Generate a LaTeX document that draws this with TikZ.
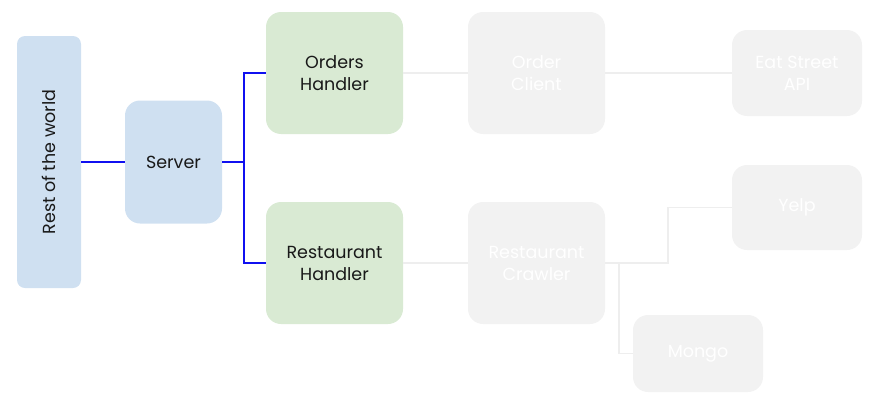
\documentclass[tikz,border=0pt]{standalone}
\usepackage{fontspec}
\setmainfont{Poppins}
\definecolor{boxblue}{HTML}{CFE0F1}
\definecolor{boxgreen}{HTML}{D9EAD3}
\definecolor{boxgray}{HTML}{F2F2F2}
\definecolor{linegray}{HTML}{EEEEEE}
\definecolor{linkblue}{HTML}{1010F0}
\begin{document}
\begin{tikzpicture}[x=1pt, y=-1pt,
    box/.style={rounded corners=15pt, inner sep=0pt, align=center,
        font=\fontsize{17.5}{22}\selectfont, text=black!90},
    hostbox/.style={box, fill=boxblue},
    handlerbox/.style={box, fill=boxgreen, minimum width=137pt, minimum height=122pt},
    outerbox/.style={box, fill=boxgray, text=white},
    bluelink/.style={draw=linkblue, line width=1.8pt},
    graylink/.style={draw=linegray, line width=1.8pt}]
    \useasboundingbox (0,0) rectangle (885,415);

    % 左侧
    \node[hostbox, rounded corners=8pt, rotate=90, minimum width=252pt, minimum height=64pt] (world) at (49,162) {Rest of the world};
    \node[hostbox, minimum width=97pt, minimum height=123pt] (server) at (173.5,162) {Server};

    % 处理器
    \node[handlerbox] (orders) at (334.5,73) {Orders\\Handler};
    \node[handlerbox] (restaurant) at (334.5,263) {Restaurant\\Handler};

    % 外部
    \node[outerbox, minimum width=137pt, minimum height=122pt] (client) at (536.5,73) {Order\\Client};
    \node[outerbox, minimum width=137pt, minimum height=122pt] (crawler) at (536.5,263) {Restaurant\\Crawler};
    \node[outerbox, minimum width=130pt, minimum height=86pt] (eatstreet) at (797,73) {Eat Street\\API};
    \node[outerbox, minimum width=130pt, minimum height=85pt] (yelp) at (797,207.5) {Yelp};
    \node[outerbox, minimum width=130pt, minimum height=77pt] (mongo) at (698,353.5) {Mongo};

    \coordinate (fork) at (244,162);
    \coordinate (cfork) at (619,263);
    \coordinate (ybend) at (668,263);

    % 连线
    \draw[bluelink] (world.south) -- (server.west);
    \draw[bluelink] (server.east) -- (fork) |- (orders.west);
    \draw[bluelink] (fork) |- (restaurant.west);

    \draw[graylink] (orders.east) -- (client.west);
    \draw[graylink] (client.east) -- (eatstreet.west);
    \draw[graylink] (restaurant.east) -- (crawler.west);
    \draw[graylink] (crawler.east) -- (ybend) |- (yelp.west);
    \draw[graylink] (cfork) |- (mongo.west);
\end{tikzpicture}
\end{document}
